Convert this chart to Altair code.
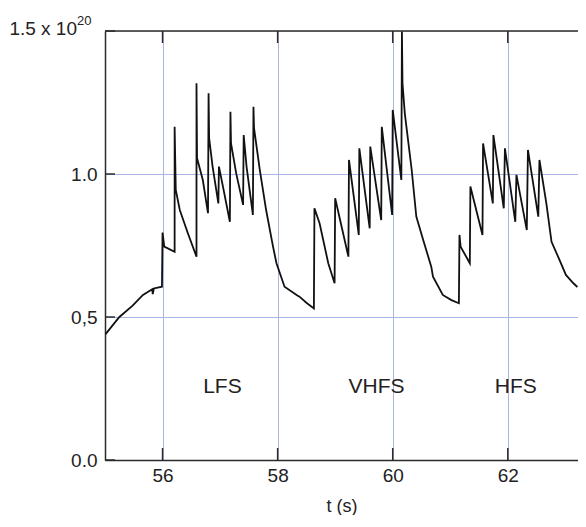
import altair as alt
import pandas as pd

# time (s) and density (x 1e20 m^-3)
t = [55.01, 55.25, 55.48, 55.66, 55.82, 55.83, 55.85, 55.99,
     56.00, 56.03, 56.21,
     56.21, 56.23, 56.30, 56.44, 56.59,
     56.59, 56.60, 56.70, 56.79,
     56.80, 56.81, 56.87, 56.97,
     56.98, 57.05, 57.17,
     57.18, 57.19, 57.28, 57.40,
     57.41, 57.46, 57.57,
     57.58, 57.59, 57.69, 57.80, 57.92, 57.98, 58.12, 58.33, 58.38, 58.50, 58.63,
     58.64, 58.73, 58.88, 58.99,
     59.00, 59.23,
     59.24, 59.41,
     59.42, 59.60,
     59.61, 59.80,
     59.81, 59.99,
     60.00, 60.15,
     60.16, 60.17, 60.21, 60.33, 60.41, 60.53, 60.67, 60.70, 60.87, 61.02, 61.15,
     61.16, 61.18, 61.34,
     61.35, 61.56,
     61.57, 61.74,
     61.75, 61.93,
     61.95, 62.13,
     62.15, 62.33,
     62.35, 62.53,
     62.55, 62.67, 62.76, 62.90, 63.01, 63.14, 63.21]
n = [0.44, 0.50, 0.54, 0.577, 0.597, 0.58, 0.60, 0.606,
     0.795, 0.746, 0.728,
     1.165, 0.944, 0.874, 0.793, 0.711,
     1.317, 1.055, 0.979, 0.863,
     1.282, 1.125, 1.026, 0.897,
     1.026, 0.956, 0.833,
     1.218, 1.107, 1.002, 0.892,
     1.136, 1.026, 0.857,
     1.235, 1.160, 1.014, 0.874, 0.746, 0.688, 0.606, 0.577, 0.571, 0.55, 0.530,
     0.880, 0.827, 0.688, 0.618,
     0.915, 0.711,
     1.049, 0.787,
     1.090, 0.810,
     1.096, 0.839,
     1.165, 0.857,
     1.224, 0.979,
     1.498, 1.317, 1.212, 1.014, 0.851, 0.769, 0.676, 0.641, 0.577, 0.559, 0.548,
     0.787, 0.746, 0.688,
     0.956, 0.787,
     1.107, 0.897,
     1.136, 0.880,
     1.090, 0.833,
     0.997, 0.804,
     1.084, 0.851,
     1.049, 0.897, 0.763, 0.699, 0.647, 0.618, 0.605]

ticks_x = [56, 58, 60, 62]
ticks_y = [0.0, 0.5, 1.0, 1.5]
label_y = [0.0, 0.5, 1.0]
phase_labels = ["LFS", "VHFS", "HFS"]
phase_t = [57.04, 59.72, 62.14]
phase_n = [0.255, 0.255, 0.255]

W, H = 473, 429
FONT = "Liberation Sans"
GRID = "#a9b4e4"
DARK = "#2b2b2b"
TXT = "#222222"

xscale = alt.Scale(domain=[55, 63.22], nice=False, zero=False)
yscale = alt.Scale(domain=[0, 1.5], nice=False, zero=False)

df = pd.DataFrame({"t": t, "n": n, "i": list(range(len(t)))})

line = alt.Chart(df).mark_line(color="#111111", strokeWidth=1.8).encode(
    x=alt.X("t:Q", scale=xscale,
            axis=alt.Axis(values=ticks_x, format="d", grid=True, gridColor=GRID, gridWidth=1,
                          ticks=False, domainColor=DARK, domainWidth=1.5,
                          labelFont=FONT, labelFontSize=19, labelColor=TXT, labelPadding=6,
                          title="t (s)", titleFont=FONT, titleFontSize=18, titleColor=TXT,
                          titleFontWeight="normal", titlePadding=12)),
    y=alt.Y("n:Q", scale=yscale,
            axis=alt.Axis(values=label_y, grid=True, gridColor=GRID, gridWidth=1,
                          ticks=False, domainColor=DARK, domainWidth=1.5,
                          labelExpr="datum.value == 0 ? '0.0' : (datum.value == 0.5 ? '0,5' : '1.0')",
                          labelFont=FONT, labelFontSize=19, labelColor=TXT, labelPadding=8,
                          title=None)),
    order=alt.Order("i:Q"),
)

top_border = alt.Chart(pd.DataFrame({"k": [0]})).mark_rule(color=DARK, strokeWidth=1.5).encode(
    x=alt.value(0), x2=alt.value(W), y=alt.value(0)
)

xt = pd.DataFrame({"t": ticks_x})
bottom_ticks = alt.Chart(xt).mark_rule(color=DARK, strokeWidth=1.5).encode(
    x=alt.X("t:Q", scale=xscale), y=alt.value(H), y2=alt.value(H - 12)
)
top_ticks = alt.Chart(xt).mark_rule(color=DARK, strokeWidth=1.5).encode(
    x=alt.X("t:Q", scale=xscale), y=alt.value(0), y2=alt.value(12)
)
yt = pd.DataFrame({"n": ticks_y})
left_ticks = alt.Chart(yt).mark_rule(color=DARK, strokeWidth=1.5).encode(
    y=alt.Y("n:Q", scale=yscale), x=alt.value(0), x2=alt.value(10)
)

phases = alt.Chart(pd.DataFrame({"t": phase_t, "n": phase_n, "lab": phase_labels})).mark_text(
    font=FONT, fontSize=21, color=TXT, align="center", baseline="middle"
).encode(
    x=alt.X("t:Q", scale=xscale), y=alt.Y("n:Q", scale=yscale), text="lab:N"
)

exp_main = alt.Chart(pd.DataFrame({"s": ["1.5 x 10"]})).mark_text(
    font=FONT, fontSize=19, color=TXT, align="right", baseline="alphabetic"
).encode(x=alt.value(-28), y=alt.value(4), text="s:N")
exp_sup = alt.Chart(pd.DataFrame({"s": ["20"]})).mark_text(
    font=FONT, fontSize=13, color=TXT, align="left", baseline="alphabetic"
).encode(x=alt.value(-28), y=alt.value(-6), text="s:N")

chart = alt.layer(
    line, top_border, bottom_ticks, top_ticks, left_ticks, phases, exp_main, exp_sup
).properties(
    width=W, height=H,
    autosize=alt.AutoSizeParams(type="none"),
    padding={"left": 97, "top": 23, "right": 0, "bottom": 55},
).configure_view(stroke=None).configure(background="white")

chart.save("out.html", embed_options={"renderer": "svg", "actions": False})
